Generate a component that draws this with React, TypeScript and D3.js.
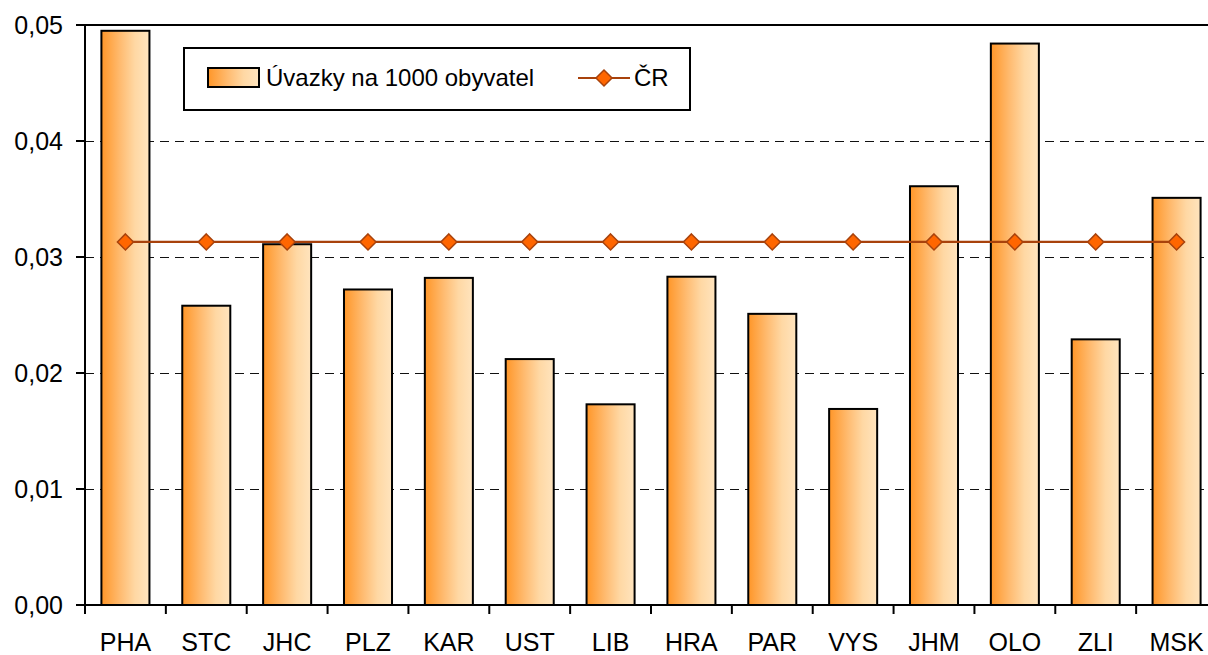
import React from "react";
import * as d3 from "d3";

const categories = ["PHA", "STC", "JHC", "PLZ", "KAR", "UST", "LIB", "HRA", "PAR", "VYS", "JHM", "OLO", "ZLI", "MSK"];
const uvazky = [0.0495, 0.0258, 0.0311, 0.0272, 0.0282, 0.0212, 0.0173, 0.0283, 0.0251, 0.0169, 0.0361, 0.0484, 0.0229, 0.0351];
const crValue = 0.0313;
const yTicks = [0, 0.01, 0.02, 0.03, 0.04, 0.05];
const seriesNames = ["Úvazky na 1000 obyvatel", "ČR"];

const W = 1208;
const H = 655;
const left = 85;
const right = 1217;
const top = 25;
const bottom = 605;
const font = "Liberation Sans, Arial, sans-serif";

export default function App() {
  const x = d3.scaleBand<string>().domain(categories).range([left, right]).paddingInner(0.406).paddingOuter(0.203);
  const y = d3.scaleLinear().domain([0, 0.05]).range([bottom, top]);
  const step = x.step();
  const fmt = (v: number) => v.toFixed(2).replace(".", ",");
  const line = d3
    .line<number>()
    .x((_, i) => (x(categories[i]) as number) + x.bandwidth() / 2)
    .y(() => y(crValue));
  const crData = categories.map(() => crValue);
  const diamond = (cx: number, cy: number, r: number) =>
    `M${cx},${cy - r}L${cx + r},${cy}L${cx},${cy + r}L${cx - r},${cy}Z`;

  return (
    <svg
      width={W}
      height={H}
      style={{ position: "fixed", left: 0, top: 0, display: "block", background: "#fff" }}
      fontFamily={font}
    >
      <defs>
        <linearGradient id="barGrad" x1="0" x2="1" y1="0" y2="0">
          <stop offset="0" stopColor="#FF9628" />
          <stop offset="0.4" stopColor="#FFBC72" />
          <stop offset="0.7" stopColor="#FFD8A4" />
          <stop offset="1" stopColor="#FFE4BE" />
        </linearGradient>
      </defs>
      {/* gridlines */}
      {yTicks
        .filter((t) => t > 0 && t < 0.05)
        .map((t) => (
          <line
            key={t}
            x1={left}
            x2={right}
            y1={y(t) + 0.5}
            y2={y(t) + 0.5}
            stroke="#111"
            strokeWidth={1}
            strokeDasharray="9,6"
            shapeRendering="crispEdges"
          />
        ))}
      {/* top border */}
      <line x1={left} x2={right} y1={top} y2={top} stroke="#000" strokeWidth={2} />
      {/* bars */}
      {uvazky.map((v, i) => (
        <rect
          key={categories[i]}
          x={x(categories[i])}
          y={y(v)}
          width={x.bandwidth()}
          height={y(0) - y(v)}
          fill="url(#barGrad)"
          stroke="#000"
          strokeWidth={2}
        />
      ))}
      {/* CR line */}
      <path d={line(crData) || ""} fill="none" stroke="#A8420C" strokeWidth={2.2} />
      {crData.map((v, i) => (
        <path
          key={i}
          d={diamond((x(categories[i]) as number) + x.bandwidth() / 2, y(v), 8)}
          fill="#FF6600"
          stroke="#A8420C"
          strokeWidth={1.5}
        />
      ))}
      {/* y axis */}
      <line x1={left} x2={left} y1={top - 1} y2={bottom + 1} stroke="#000" strokeWidth={2} />
      {yTicks.map((t) => (
        <g key={t}>
          <line x1={left - 9} x2={left} y1={y(t)} y2={y(t)} stroke="#000" strokeWidth={2} />
          <text x={63} y={y(t) + 8.5} textAnchor="end" fontSize={25} fill="#000">
            {fmt(t)}
          </text>
        </g>
      ))}
      {/* x axis */}
      <line x1={left} x2={right} y1={bottom} y2={bottom} stroke="#000" strokeWidth={2} />
      {categories.map((c, i) => (
        <g key={c}>
          <line x1={left + i * step} x2={left + i * step} y1={bottom} y2={bottom + 9} stroke="#000" strokeWidth={2} />
          <text x={(x(c) as number) + x.bandwidth() / 2} y={651} textAnchor="middle" fontSize={25} fill="#000">
            {c}
          </text>
        </g>
      ))}
      {/* legend */}
      <rect x={184} y={48} width={506} height={62} fill="#fff" stroke="#000" strokeWidth={2} />
      <rect x={208} y={68} width={51} height={19} fill="url(#barGrad)" stroke="#000" strokeWidth={2} />
      <text x={266} y={86} fontSize={24} fill="#000">
        {seriesNames[0]}
      </text>
      <line x1={578} x2={630} y1={78} y2={78} stroke="#A8420C" strokeWidth={2.2} />
      <path d={diamond(604, 78, 8)} fill="#FF6600" stroke="#A8420C" strokeWidth={1.5} />
      <text x={634} y={86} fontSize={24} fill="#000">
        {seriesNames[1]}
      </text>
    </svg>
  );
}
